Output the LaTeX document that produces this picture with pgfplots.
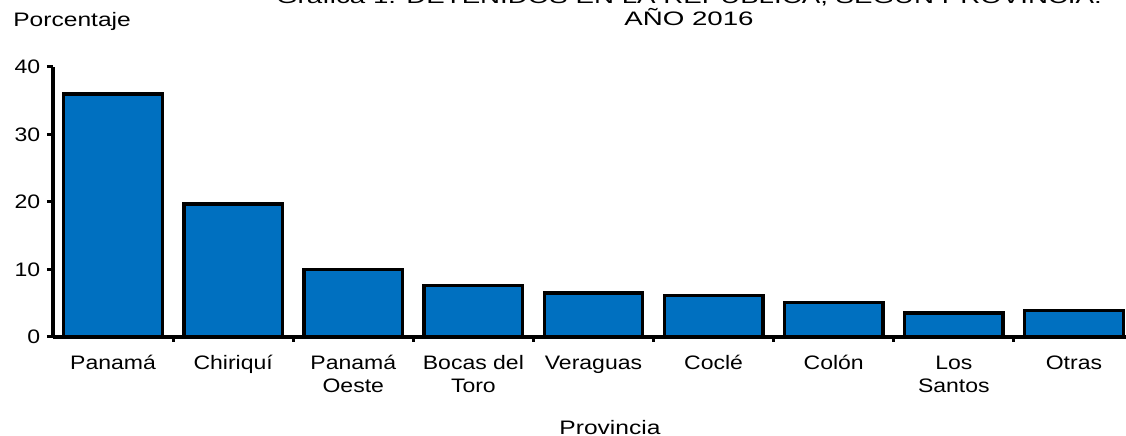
\documentclass[border=0pt]{standalone}
\usepackage{fontspec}
\setmainfont{Liberation Sans}[FakeStretch=1.18]
\newfontfamily\titlefont{Liberation Sans}[FakeStretch=1.42]
\newfontfamily\midfont{Liberation Sans}[FakeStretch=1.26]
\usepackage{pgfplots}
\pgfplotsset{compat=1.18}
\definecolor{barblue}{HTML}{0070C0}
\begin{document}
\fontsize{11.7pt}{13.8pt}\selectfont
\begin{tikzpicture}
\useasboundingbox (0,0) rectangle (675.6pt,261.6pt);
\begin{axis}[
  at={(31.8pt,59.4pt)}, anchor=south west,
  scale only axis, width=648.6pt, height=162pt,
  axis lines=left,
  axis line style={-, line width=2pt, black},
  xmin=-0.5, xmax=8.5, ymin=0, ymax=40,
  ytick={0,10,20,30,40},
  xtick={0,1,2,3,4,5,6,7,8},
  xticklabels={{Panamá\\\mbox{}}, {Chiriquí\\\mbox{}}, {Panamá\\Oeste}, {Bocas del\\Toro}, {Veraguas\\\mbox{}}, {Coclé\\\mbox{}}, {Colón\\\mbox{}}, {Los\\Santos}, {Otras\\\mbox{}}},
  minor xtick={0.5,1.5,2.5,3.5,4.5,5.5,6.5,7.5,8.5},
  major x tick style={draw=none},
  tick align=outside,
  tick style={line width=1.8pt, black},
  major tick length=3.6pt,
  minor tick length=3pt,
  xticklabel style={align=center, anchor=base, yshift=-30pt},
  yticklabel style={anchor=east},
  /pgf/number format/assume math mode=true,
  clip=false,
]
\addplot[ybar, bar width=0.82, fill=barblue, draw=black, line width=2pt]
  coordinates {(0,36.0) (1,19.7) (2,10.0) (3,7.6) (4,6.5) (5,6.1) (6,5.1) (7,3.55) (8,3.9)};
\end{axis}
\node[anchor=base west, inner sep=0pt, font=\midfont] at (7.8pt,245.4pt) {Porcentaje};
\node[anchor=base, inner sep=0pt, font=\titlefont] at (413.4pt,246.3pt) {AÑO 2016};
\node[anchor=base, inner sep=0pt, font=\titlefont] at (413.4pt,259.6pt) {Gráfica 1. DETENIDOS EN LA REPÚBLICA, SEGÚN PROVINCIA:};
\node[anchor=base, inner sep=0pt, font=\midfont] at (366pt,1pt) {Provincia};
\end{tikzpicture}
\end{document}
